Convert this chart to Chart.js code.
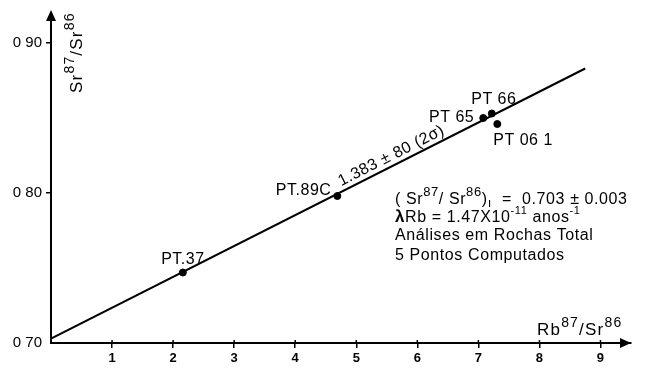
<!DOCTYPE html>
<html>
<head>
<meta charset="utf-8">
<script src="https://cdn.jsdelivr.net/npm/chart.js@4/dist/chart.umd.min.js"></script>
<style>
  html, body { margin: 0; padding: 0; background: #fff; }
  #wrap { position: relative; width: 645px; height: 370px; }
</style>
</head>
<body>
<div id="wrap"><canvas id="isochron"></canvas></div>
<script>
// samples (Rb87/Sr86 vs Sr87/Sr86)
const sampleNames = ['PT.37', 'PT.89C', 'PT 65', 'PT 66', 'PT 06 1'];
const rbSr = [2.16, 4.69, 7.08, 7.22, 7.31];
const srSr = [0.747, 0.798, 0.850, 0.853, 0.846];

// isochron end points
const lineX = [0, 8.75];
const lineY = [0.703, 0.883];

const xTicks = [1, 2, 3, 4, 5, 6, 7, 8, 9];
const yTicks = [0.70, 0.80, 0.90];
const yTickLabels = ['0 70', '0 80', '0 90'];

const FONT = '"Liberation Sans", Arial, Helvetica, sans-serif';

// label placement next to each dot: [dx, dy, align]
const labelPos = {
  'PT.37':   [0, -9, 'center'],
  'PT.89C':  [-6, -1, 'right'],
  'PT 65':   [-9, 4, 'right'],
  'PT 66':   [2, -10, 'center'],
  'PT 06 1': [-4, 21, 'left']
};

// draws text made of normal / superscript / subscript pieces
function drawRich(ctx, parts, x, y, size, weight, ratio) {
  let cx = x;
  parts.forEach(([txt, kind]) => {
    const s = kind ? Math.round(size * (ratio || 0.8)) : size;
    const dy = kind === 'sup' ? -size * 0.5 : (kind === 'sub' ? size * 0.2 : 0);
    ctx.font = (weight || 'normal') + ' ' + s + 'px ' + FONT;
    ctx.fillText(txt, cx, y + dy);
    cx += ctx.measureText(txt).width;
  });
  return cx - x;
}

const annotations = {
  id: 'annotations',
  afterDraw(chart) {
    const ctx = chart.ctx;
    const xs = chart.scales.x, ys = chart.scales.y;
    const area = chart.chartArea;
    ctx.save();
    ctx.fillStyle = '#000';

    // axis arrows
    ctx.beginPath();
    ctx.moveTo(area.left, area.top - 3);
    ctx.lineTo(area.left - 5, area.top + 8);
    ctx.lineTo(area.left + 5, area.top + 8);
    ctx.closePath();
    ctx.fill();
    ctx.beginPath();
    ctx.moveTo(area.right, area.bottom);
    ctx.lineTo(area.right - 11, area.bottom - 5);
    ctx.lineTo(area.right - 11, area.bottom + 5);
    ctx.closePath();
    ctx.fill();

    // x ticks cross the axis a little
    xTicks.forEach(v => {
      const px = xs.getPixelForValue(v);
      ctx.fillRect(px - 0.75, area.bottom - 3, 1.5, 3);
    });

    // point labels
    ctx.textBaseline = 'alphabetic';
    ctx.letterSpacing = '0.5px';
    ctx.font = '16px ' + FONT;
    sampleNames.forEach((n, i) => {
      const px = xs.getPixelForValue(rbSr[i]);
      const py = ys.getPixelForValue(srSr[i]);
      const p = labelPos[n];
      ctx.textAlign = p[2];
      ctx.fillText(n, px + p[0], py + p[1]);
    });

    // age along the isochron
    const x0 = xs.getPixelForValue(lineX[0]), y0 = ys.getPixelForValue(lineY[0]);
    const x1 = xs.getPixelForValue(lineX[1]), y1 = ys.getPixelForValue(lineY[1]);
    const ang = Math.atan2(y1 - y0, x1 - x0);
    const t = 0.645;
    ctx.save();
    ctx.translate(x0 + (x1 - x0) * t, y0 + (y1 - y0) * t);
    ctx.rotate(ang);
    ctx.textAlign = 'center';
    ctx.font = '16px ' + FONT;
    ctx.fillText('1.383 ± 80 (2σ)', 0, -5);
    ctx.restore();

    // axis titles
    ctx.textAlign = 'left';
    ctx.letterSpacing = '1.2px';
    drawRich(ctx, [['Rb', ''], ['87', 'sup'], ['/', ''], ['Sr', ''], ['86', 'sup']], 537, 335, 17);
    ctx.save();
    ctx.translate(82, 93);
    ctx.rotate(-Math.PI / 2);
    drawRich(ctx, [['Sr', ''], ['87', 'sup'], ['/', ''], ['Sr', ''], ['86', 'sup']], 0, 0, 17);
    ctx.restore();

    // result block
    ctx.letterSpacing = '0.6px';
    drawRich(ctx, [['( Sr', ''], ['87', 'sup'], ['/ Sr', ''], ['86', 'sup'], [')', ''], ['ı', 'sub'], ['  =  0.703 ± 0.003', '']], 395, 204, 16);
    let w = drawRich(ctx, [['λ', '']], 395, 222, 17, 'bold');
    drawRich(ctx, [['Rb = 1.47X10', ''], ['-11', 'sup'], [' anos', ''], ['-1', 'sup']], 395 + w, 222, 16, 'normal', 0.68);
    ctx.font = '16px ' + FONT;
    ctx.fillText('Análises em Rochas Total', 395, 240);
    ctx.fillText('5 Pontos Computados', 395, 260);
    ctx.restore();
  }
};

const ctx = document.getElementById('isochron').getContext('2d');
new Chart(ctx, {
  type: 'scatter',
  data: {
    datasets: [
      {
        label: 'Amostras',
        data: rbSr.map((v, i) => ({ x: v, y: srSr[i] })),
        backgroundColor: '#000',
        borderColor: '#000',
        pointRadius: 3.5,
        showLine: false
      },
      {
        type: 'line',
        label: 'Isócrona',
        data: lineX.map((v, i) => ({ x: v, y: lineY[i] })),
        borderColor: '#000',
        borderWidth: 2,
        pointRadius: 0,
        fill: false
      }
    ]
  },
  options: {
    responsive: true,
    maintainAspectRatio: false,
    animation: false,
    layout: { padding: { top: 12, right: 14, left: 0, bottom: 0 } },
    plugins: { legend: { display: false }, tooltip: { enabled: false } },
    scales: {
      x: {
        type: 'linear',
        min: 0,
        max: 9.5,
        afterBuildTicks: s => { s.ticks = xTicks.map(v => ({ value: v })); },
        afterFit: s => { s.height = 27; },
        ticks: { color: '#000', font: { family: FONT, size: 13, weight: 'bold' }, padding: 3 },
        grid: { drawOnChartArea: false, drawTicks: true, tickLength: 5, color: '#000', lineWidth: 1.5 },
        border: { color: '#000', width: 2 }
      },
      y: {
        type: 'linear',
        min: 0.70,
        max: 0.92,
        afterBuildTicks: s => { s.ticks = yTicks.map(v => ({ value: v })); },
        afterFit: s => { s.width = 51; },
        ticks: {
          color: '#000',
          font: { family: FONT, size: 15 },
          padding: 4,
          callback: (v, i) => yTickLabels[i]
        },
        grid: {
          drawOnChartArea: false, drawTicks: true, tickLength: 5, lineWidth: 1.5,
          color: c => (c.tick && c.tick.value === 0.70 ? 'rgba(0,0,0,0)' : '#000')
        },
        border: { color: '#000', width: 2 }
      }
    }
  },
  plugins: [annotations]
});
</script>
</body>
</html>
